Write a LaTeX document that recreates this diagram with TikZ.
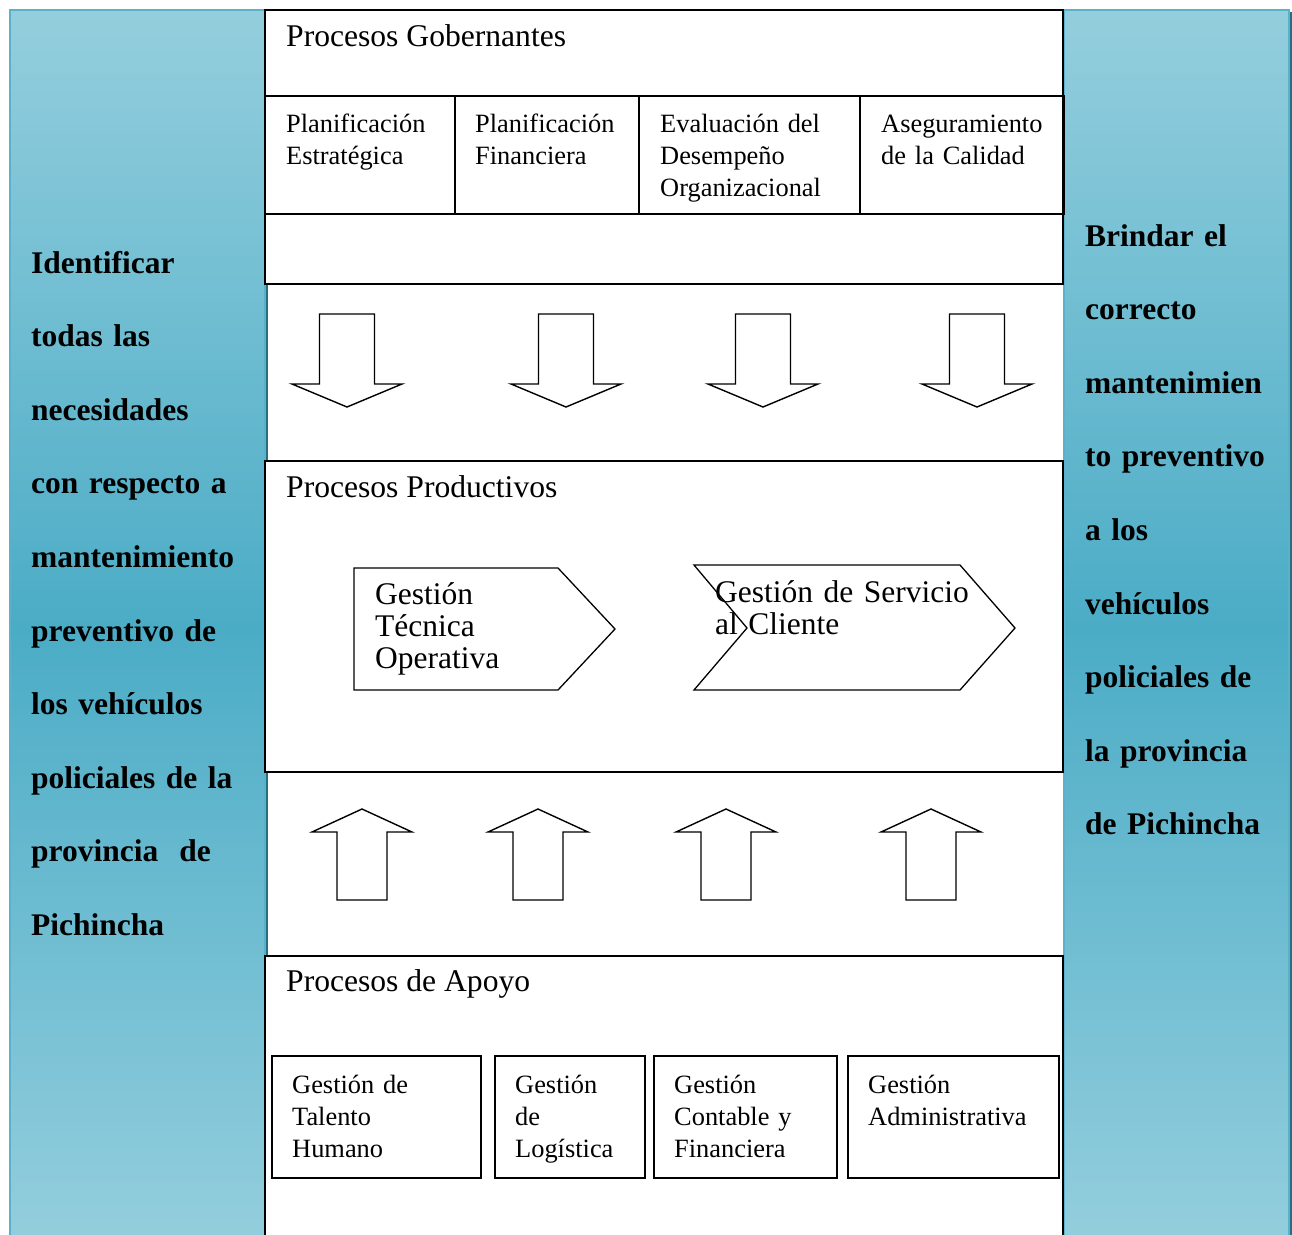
\documentclass[tikz,border=0pt]{standalone}
\usepackage{fontspec}
\setmainfont{Liberation Serif}
\definecolor{paneltop}{RGB}{148,206,221}
\definecolor{panelmid}{RGB}{75,172,198}
\definecolor{paneledge}{RGB}{90,178,202}
\definecolor{paneldark}{RGB}{40,110,130}
\begin{document}
\begin{tikzpicture}[x=1pt,y=-1pt,
  panel/.style={draw=paneledge, line width=2pt, top color=paneltop,
    bottom color=paneltop, middle color=panelmid},
  shadowedge/.style={draw=paneldark, line width=2pt},
  frame/.style={draw=black, line width=1.5pt},
  blockline/.style={draw=black, line width=1.4pt, fill=white, line join=miter},
  sidetext/.style={font=\bfseries\fontsize{31.5}{73.6}\selectfont, align=left,
    text width=240pt, inner sep=0pt, anchor=base west},
  hdr/.style={font=\fontsize{31.6}{38}\selectfont, inner sep=0pt, anchor=base west},
  cell/.style={font=\fontsize{26.4}{32}\selectfont, align=left, text width=200pt,
    inner sep=0pt, anchor=base west},
  chevtext/.style={font=\fontsize{31.5}{32}\selectfont, align=left, text width=300pt,
    inner sep=0pt, anchor=base west},
  downarrow/.pic={\path[blockline] (-27.5,0) -- (27.5,0) -- (27.5,70) -- (55,70)
    -- (0,93) -- (-55,70) -- (-27.5,70) -- cycle;},
  uparrow/.pic={\path[blockline] (0,0) -- (50,23) -- (25,23) -- (25,91)
    -- (-25,91) -- (-25,23) -- (-50,23) -- cycle;}
]
\useasboundingbox (0,0) rectangle (1292,1234);
\clip (0,0) rectangle (1292,1234);

% side panels with gradient fill
\path[panel] (10,10) rectangle (265,1245);
\draw[shadowedge] (266.5,12) -- (266.5,1245);
\path[panel] (1064,10) rectangle (1289,1245);
\draw[shadowedge] (1290.5,12) -- (1290.5,1245);

\node[sidetext] (objective) at (31,273)
  {Identificar\\todas las\\necesidades\\con respecto a\\mantenimiento\\preventivo de\\los vehículos\\policiales de la\\provincia\ \ de\\Pichincha};
\node[sidetext, text width=210pt] (purpose) at (1085,246)
  {Brindar el\\correcto\\mantenimien\\to preventivo\\a los\\vehículos\\policiales de\\la provincia\\de Pichincha};

% governing processes
\path[frame, fill=white] (265,10) rectangle (1063,284);
\draw[frame] (265,96) rectangle (1064,214);
\draw[frame] (455,96) -- (455,214);
\draw[frame] (639,96) -- (639,214);
\draw[frame] (860,96) -- (860,214);
\node[hdr] (gob) at (286,46) {Procesos Gobernantes};
\node[cell] (g1) at (286,132) {Planificación\\Estratégica};
\node[cell] (g2) at (475,132) {Planificación\\Financiera};
\node[cell] (g3) at (660,132) {Evaluación del\\Desempeño\\Organizacional};
\node[cell] (g4) at (881,132) {Aseguramiento\\de la Calidad};

% arrows down
\foreach \cx in {347,566,763,977}
  \pic at (\cx,314) {downarrow};

% productive processes
\path[frame, fill=white] (265,461) rectangle (1063,772);
\node[hdr] (prod) at (286,497) {Procesos Productivos};
\path[blockline, line width=1.3pt] (354,568) -- (558,568) -- (615,629) -- (558,690) -- (354,690) -- cycle;
\path[blockline, line width=1.3pt] (694,565) -- (960,565) -- (1015,628) -- (960,690) -- (694,690) -- (747,628) -- cycle;
\node[chevtext] (p1) at (375,604) {Gestión\\Técnica\\Operativa};
\node[chevtext] (p2) at (715,602) {Gestión de Servicio\\al Cliente};

% arrows up
\foreach \cx in {362,538,726,931}
  \pic at (\cx,809) {uparrow};

% support processes
\path[frame, fill=white] (265,956) rectangle (1063,1245);
\node[hdr] (apoyo) at (286,991) {Procesos de Apoyo};
\draw[frame] (272,1056) rectangle (481,1178);
\draw[frame] (495,1056) rectangle (645,1178);
\draw[frame] (654,1056) rectangle (837,1178);
\draw[frame] (848,1056) rectangle (1059,1178);
\node[cell] (a1) at (292,1093) {Gestión de\\Talento\\Humano};
\node[cell] (a2) at (515,1093) {Gestión\\de\\Logística};
\node[cell] (a3) at (674,1093) {Gestión\\Contable y\\Financiera};
\node[cell] (a4) at (868,1093) {Gestión\\Administrativa};
\end{tikzpicture}
\end{document}
